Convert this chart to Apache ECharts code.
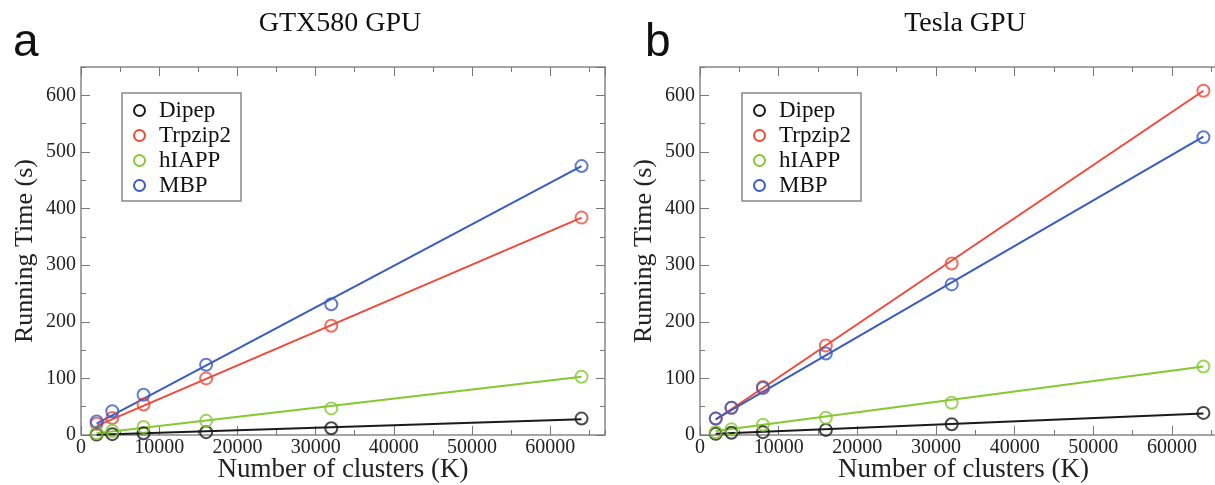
<!DOCTYPE html>
<html>
<head>
<meta charset="utf-8">
<script src="https://cdn.jsdelivr.net/npm/echarts@6/dist/echarts.min.js"></script>
<style>
  html, body { margin: 0; padding: 0; background: #fff; }
  #chart { width: 1215px; height: 485px; }
</style>
</head>
<body>
<div id="chart"></div>
<script>
// cluster counts (K)
const clusters = [2000, 4000, 8000, 16000, 32000, 64000]
const names = ['Dipep', 'Trpzip2', 'hIAPP', 'MBP']
const colors = ['#1a1a1a', '#f2483a', '#86c832', '#3a5bbf']

// panel a: GTX580 measured times (s)
const gtxDipep = [1, 1.5, 3, 5, 12, 29]
const gtxTrpzip2 = [20, 30, 54, 100, 193, 384]
const gtxHiapp = [3, 7, 14, 25, 47, 103]
const gtxMbp = [24, 42, 71, 124, 231, 475]
// fitted lines, value at first and last cluster count
const fitEnds = [2000, 64000]
const gtxFit = [[0.5, 28], [16, 384], [3, 103], [20, 475]]

// panel b: Tesla measured times (s)
const teslaDipep = [2, 4, 5, 9, 19, 39]
const teslaTrpzip2 = [29, 48, 85, 158, 303, 608]
const teslaHiapp = [5, 10, 18, 30.5, 57, 121]
const teslaMbp = [29, 48, 83, 144, 266, 526]
const teslaFit = [[2, 38], [27, 608], [7, 121], [28, 527]]

const titles = ['GTX580 GPU', 'Tesla GPU']
const letters = ['a', 'b']

const serif = 'Liberation Serif'
const xMax = 67000
const yMax = 650

const grids = [
	{ left: 81, top: 67, width: 524, height: 368 },
	{ left: 700, top: 67, width: 527, height: 368 },
]

let xAxes = []
let yAxes = []

function addAxes(gi) {
	const tick = (len) => ({ inside: true, length: len, lineStyle: { color: '#777', width: 1 } })
	const noLine = { show: false, onZero: false }
	const base = (pos, max, interval, len) => ({
		gridIndex: gi, type: 'value', position: pos, min: 0, max: max, interval: interval,
		axisLine: noLine, splitLine: { show: false }, axisTick: tick(len), axisLabel: { show: false },
	})
	// major axes carry labels and names
	let xb = base('bottom', xMax, 10000, 9)
	xb.axisLabel = { showMaxLabel: false, margin: 3, color: '#222', fontFamily: serif, fontSize: 20, formatter: (v) => String(v) }
	xb.name = 'Number of clusters (K)'
	xb.nameLocation = 'middle'
	xb.nameGap = 21
	xb.nameMoveOverlap = false
	xb.nameTextStyle = { color: '#222', fontFamily: serif, fontSize: 27 }
	xAxes.push(xb, base('bottom', xMax, 5000, 5), base('top', xMax, 10000, 9), base('top', xMax, 5000, 5))

	let yl = base('left', yMax, 100, 9)
	yl.axisLabel = { showMaxLabel: false, margin: 5, color: '#222', fontFamily: serif, fontSize: 20, formatter: (v) => String(v) }
	yl.name = 'Running Time (s)'
	yl.nameLocation = 'middle'
	yl.nameGap = 43
	yl.nameRotate = 90
	yl.nameMoveOverlap = false
	yl.nameTextStyle = { color: '#222', fontFamily: serif, fontSize: 26 }
	yAxes.push(yl, base('left', yMax, 50, 5), base('right', yMax, 100, 9), base('right', yMax, 50, 5))
}
addAxes(0)
addAxes(1)

const panels = [
	{ values: [gtxDipep, gtxTrpzip2, gtxHiapp, gtxMbp], fit: gtxFit },
	{ values: [teslaDipep, teslaTrpzip2, teslaHiapp, teslaMbp], fit: teslaFit },
]

let series = []
panels.forEach((p, gi) => {
	names.forEach((n, i) => {
		series.push({
			name: n, type: 'line', xAxisIndex: gi * 4, yAxisIndex: gi * 4,
			data: fitEnds.map((x, k) => [x, p.fit[i][k]]),
			showSymbol: false, symbol: 'none', silent: true,
			lineStyle: { color: colors[i], width: 2 }, itemStyle: { color: colors[i] },
			z: 2,
		})
		series.push({
			name: n, type: 'scatter', xAxisIndex: gi * 4, yAxisIndex: gi * 4,
			data: clusters.map((x, k) => [x, p.values[i][k]]),
			symbol: 'circle', symbolSize: 12,
			itemStyle: { color: 'rgba(255,255,255,0)', borderColor: colors[i], borderWidth: 2 },
			z: 3,
		})
	})
})

const legendData = names.map((n, i) => ({
	name: n,
	icon: 'circle',
	itemStyle: { color: '#fff', borderColor: colors[i], borderWidth: 2 },
}))

const legendBase = {
	orient: 'vertical', top: 93, data: legendData,
	itemWidth: 11, itemHeight: 11, itemGap: 2,
	padding: [6, 10, 4, 11],
	borderColor: '#888', borderWidth: 1.5,
	textStyle: { color: '#111', fontFamily: serif, fontSize: 23, lineHeight: 23, padding: [0, 0, 0, 9] },
	selectedMode: false,
}

const option = {
	animation: false,
	backgroundColor: '#fff',
	title: [
		{ text: titles[0], left: 335, top: 5, textAlign: 'center', textStyle: { fontFamily: serif, fontWeight: 'normal', fontSize: 28, color: '#111' } },
		{ text: titles[1], left: 960, top: 5, textAlign: 'center', textStyle: { fontFamily: serif, fontWeight: 'normal', fontSize: 28, color: '#111' } },
		{ text: letters[0], left: 8, top: 15, textStyle: { fontFamily: 'Liberation Sans', fontWeight: 'normal', fontSize: 46, color: '#111' } },
		{ text: letters[1], left: 640, top: 15, textStyle: { fontFamily: 'Liberation Sans', fontWeight: 'normal', fontSize: 46, color: '#111' } },
	],
	grid: grids.map(g => Object.assign({
		show: true, borderColor: '#888', borderWidth: 1.5, backgroundColor: 'transparent',
		containLabel: false, outerBoundsMode: 'none',
	}, g)),
	legend: [
		Object.assign({ left: 122 }, legendBase),
		Object.assign({ left: 742 }, legendBase),
	],
	xAxis: xAxes,
	yAxis: yAxes,
	series: series,
}

const myChart = echarts.init(document.getElementById('chart'))
myChart.setOption(option)
</script>
</body>
</html>
